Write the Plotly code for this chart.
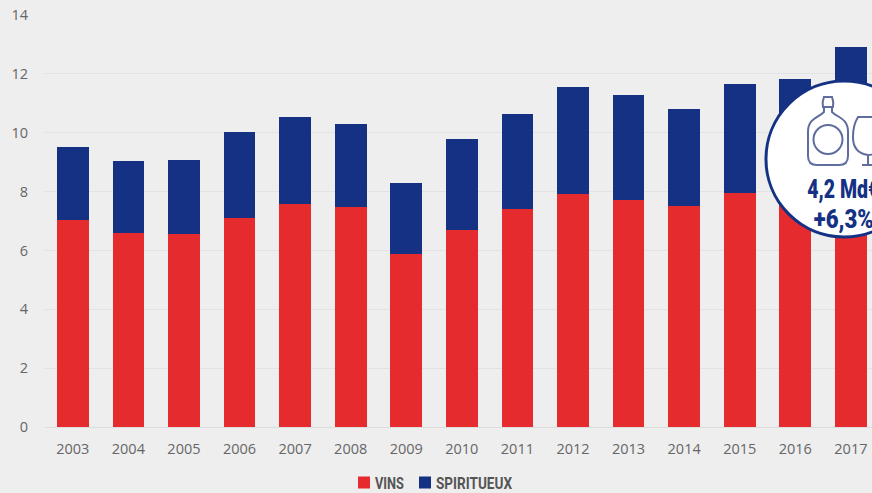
import plotly.graph_objects as go

years = ["2003","2004","2005","2006","2007","2008","2009","2010","2011","2012","2013","2014","2015","2016","2017"]
vins = [7.05,6.6,6.55,7.1,7.57,7.48,5.87,6.7,7.4,7.92,7.72,7.5,7.95,7.87,8.7]
spiritueux = [2.47,2.45,2.53,2.93,2.98,2.83,2.43,3.1,3.25,3.62,3.55,3.32,3.7,3.95,4.2]

W, H = 872, 493
L, T, B = 45.2, 15, 427
def px(x): return (x - L) / (W - L)
def py(y): return (B - y) / (B - T)
def P(x, y): return f"{px(x):.4f},{py(y):.4f}"

NAVY = "#143184"
ICON = "#5f6d9e"
COND = "Roboto"

fig = go.Figure()
fig.add_bar(x=years, y=vins, name="VINS", marker_color="#e52b2d", marker_line_width=0)
fig.add_bar(x=years, y=spiritueux, name="SPIRITUEUX", marker_color=NAVY, marker_line_width=0)

def path(d):
    return dict(type="path", xref="paper", yref="paper", path=d, line=dict(color=ICON, width=2))

bottle = ("M" + P(824,97) + " L" + P(832,97) + " Q" + P(834,102) + " " + P(833,107) + " L" + P(823,107)
          + " Q" + P(822,102) + " " + P(824,97) + " Z "
          "M" + P(824,107) + " L" + P(824,112) + " C" + P(818,118) + " " + P(808,118) + " " + P(808,132)
          + " L" + P(808,156) + " Q" + P(808,165) + " " + P(817,165)
          + " L" + P(839,165) + " Q" + P(848,165) + " " + P(848,156)
          + " L" + P(848,132) + " C" + P(848,118) + " " + P(838,118) + " " + P(832,112) + " L" + P(832,107))
glass = ("M" + P(858,117) + " L" + P(880,117) + " L" + P(884,135) + " Q" + P(882,155) + " " + P(868,155)
         + " Q" + P(853,153) + " " + P(853,137) + " Q" + P(853,125) + " " + P(858,117) + " Z "
         "M" + P(868,155) + " L" + P(868,165) + " M" + P(862,165) + " L" + P(876,165))

shapes = [
    dict(type="circle", xref="paper", yref="paper", x0=px(766), x1=px(922), y0=py(237), y1=py(81),
         fillcolor="white", line=dict(color=NAVY, width=3)),
    path(bottle),
    dict(type="circle", xref="paper", yref="paper", x0=px(813.5), x1=px(842.5), y0=py(154), y1=py(125),
         line=dict(color=ICON, width=2)),
    path(glass),
]

annotations = [
    dict(text="4,2 Md€", xref="paper", yref="paper", x=px(843), y=py(189), showarrow=False,
         font=dict(family=COND, size=25, color=NAVY, weight=900), xanchor="center", yanchor="middle"),
    dict(text="+6,3%", xref="paper", yref="paper", x=px(844), y=py(219), showarrow=False,
         font=dict(family=COND, size=25, color=NAVY, weight=900), xanchor="center", yanchor="middle"),
]

fig.update_layout(
    width=W, height=H, barmode="stack", bargap=0.43,
    margin=dict(l=L, r=0, t=T, b=H - B),
    paper_bgcolor="#eeeeee", plot_bgcolor="#eeeeee",
    font=dict(family="Open Sans", size=14.5, color="#666666"),
    shapes=shapes, annotations=annotations,
    legend=dict(orientation="h", x=0.47, xanchor="center", y=0.5, yanchor="middle",
                bgcolor="rgba(0,0,0,0)",
                font=dict(family=COND, size=16, color="#555555", weight=700),
                traceorder="normal", itemclick=False),
    xaxis=dict(type="category", range=[-0.5, 14.38], showgrid=False, ticks="", showline=True,
               linecolor="#dcdcdc", linewidth=1, ticklabelstandoff=9),
    yaxis=dict(range=[0, 14], tick0=0, dtick=2, gridcolor="#e2e2e2", gridwidth=1, zeroline=False,
               ticks="", ticklabelstandoff=16),
)

post = """
document.body.style.margin='0';
document.body.style.overflow='hidden';
var gd=document.getElementById('{plot_id}');
function tweak(){
  var fit={'VINS':29,'SPIRITUEUX':76,'4,2 Md€':72,'+6,3%':60};
  gd.querySelectorAll('.legendtext,.annotation-text').forEach(function(t){
    var w=fit[t.textContent];
    if(w){t.setAttribute('textLength',w);t.setAttribute('lengthAdjust','spacingAndGlyphs');}
  });
  var sb=gd.querySelector('.legend .scrollbox'); if(sb) sb.removeAttribute('clip-path');
  var lg=gd.querySelector('.legend'); if(lg) lg.removeAttribute('clip-path');
  var targets=[358,419];
  gd.querySelectorAll('.legend .traces').forEach(function(g,i){
    var sw=g.querySelector('.legendpoints path');
    var r=sw.getBoundingClientRect();
    var m=(g.getAttribute('transform')||'').match(/translate\\(([-\\d.]+)[ ,]*([-\\d.]*)/);
    var tx=parseFloat(m[1]), ty=parseFloat(m[2]||0);
    var dy=482.5-(r.top+r.bottom)/2;
    g.setAttribute('transform','translate('+(tx+targets[i]-r.left)+','+(ty+dy)+')');
    var lt=g.querySelector('.legendtext');
    var r2=sw.getBoundingClientRect();
    lt.setAttribute('x', parseFloat(lt.getAttribute('x'))-(lt.getBoundingClientRect().left-r2.right)+5);
  });
}
tweak();
"""
fig.write_html("out.html", config=dict(displayModeBar=False), post_script=post)
